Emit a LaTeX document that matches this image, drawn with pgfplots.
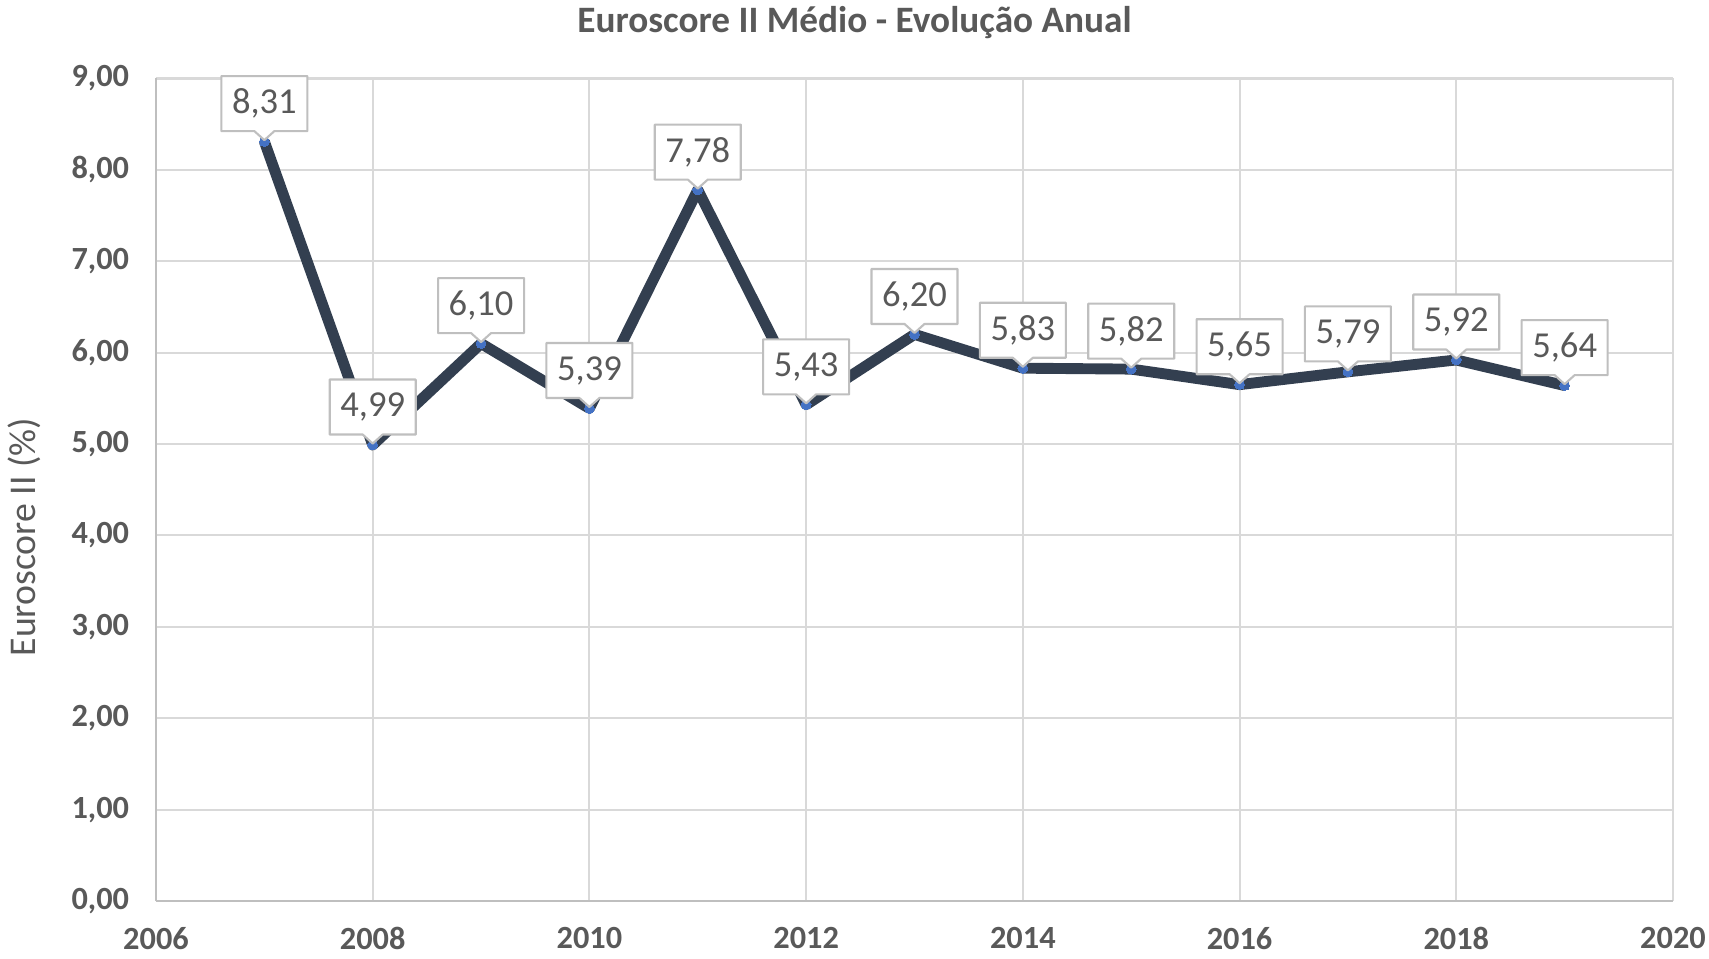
\documentclass[border=0pt]{standalone}
\usepackage{fontspec}
\setmainfont{Carlito}
\usepackage{pgfplots}
\pgfplotsset{compat=1.18}
\usetikzlibrary{shapes.callouts}

\definecolor{txtgray}{HTML}{595959}
\definecolor{gridgray}{HTML}{D9D9D9}
\definecolor{axgray}{HTML}{BFBFBF}
\definecolor{linenavy}{HTML}{333F50}
\definecolor{markblue}{HTML}{4472C4}

\begin{document}
\begin{tikzpicture}
\begin{axis}[
    scale only axis,
    width=15.17cm, height=8.225cm,
    xmin=2006, xmax=2020,
    ymin=0, ymax=9,
    xtick={2006,2008,...,2020},
    ytick={0,1,...,9},
    axis lines*=left,
    axis line style={axgray, line width=0.6pt},
    grid=major,
    major grid style={gridgray, line width=0.6pt},
    tick style={draw=none},
    clip=false,
    /pgf/number format/assume math mode=true,
    xticklabel style={/pgf/number format/1000 sep={}, font=\fontsize{9.2}{11}\selectfont\bfseries, text=txtgray, yshift=-0.14cm},
    yticklabel style={/pgf/number format/.cd, use comma, fixed, fixed zerofill, precision=2, /tikz/.cd,
        font=\fontsize{9.2}{11}\selectfont\bfseries, text=txtgray, xshift=-0.145cm},
    nodes near coords={\pgfmathprintnumber[use comma,fixed,fixed zerofill,precision=2,assume math mode=true]{\pgfplotspointmeta}},
    every node near coord/.append style={
        rectangle callout, anchor=pointer,
        callout relative pointer={(0pt,-0.09cm)},
        callout pointer width=0.2cm,
        draw=axgray, line width=0.6pt, fill=white,
        text=txtgray, font=\fontsize{10.4}{12}\selectfont,
        minimum width=0.86cm, minimum height=0.55cm, inner sep=0pt},
]
% Euroscore II medio por ano
\addplot[linenavy, line width=3.1pt, line join=round,
    mark=*, mark size=1.4pt, mark options={fill=markblue, draw=markblue, line width=0pt}]
coordinates {
(2007,8.31) (2008,4.99) (2009,6.10) (2010,5.39) (2011,7.78) (2012,5.43) (2013,6.20)
(2014,5.83) (2015,5.82) (2016,5.65) (2017,5.79) (2018,5.92) (2019,5.64)
};
\end{axis}
\coordinate (ll) at (current axis.south west);
\node[font=\fontsize{10.6}{13}\selectfont\bfseries, text=txtgray] at ([xshift=6.985cm, yshift=8.78cm]ll) {Euroscore II Médio - Evolução Anual};
\node[font=\fontsize{10.75}{13}\selectfont, text=txtgray, rotate=90] at ([xshift=-1.32cm, yshift=3.64cm]ll) {Euroscore II (\%)};
\pgfresetboundingbox
\path ([xshift=-1.56cm, yshift=-0.58cm]ll) rectangle ([xshift=15.53cm, yshift=9.01cm]ll);
\end{tikzpicture}
\end{document}
